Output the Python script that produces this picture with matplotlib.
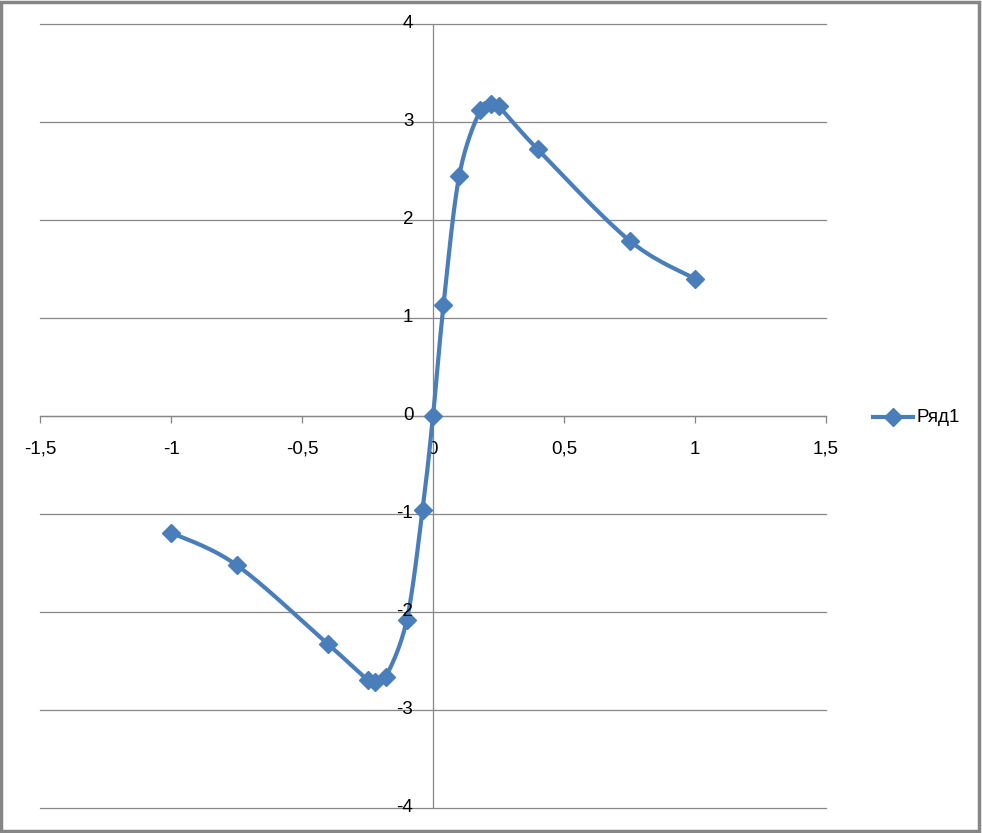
import numpy as np
import matplotlib
matplotlib.use("Agg")
import matplotlib.pyplot as plt
from matplotlib.patches import Rectangle
from matplotlib.ticker import FuncFormatter

plt.rcParams["font.family"] = ["Liberation Sans", "DejaVu Sans"]

# data
x_vals = [-1.0, -0.75, -0.4, -0.25, -0.22, -0.18, -0.1, -0.04, 0.0,
          0.04, 0.1, 0.18, 0.22, 0.25, 0.4, 0.75, 1.0]
y_vals = [-1.19, -1.52, -2.33, -2.69, -2.71, -2.66, -2.08, -0.96, 0.0,
          1.13, 2.45, 3.12, 3.18, 3.16, 2.72, 1.79, 1.40]
series_name = "Ряд1"
x_ticks = [-1.5, -1, -0.5, 0, 0.5, 1, 1.5]
y_ticks = [-4, -3, -2, -1, 0, 1, 2, 3, 4]

blue = "#4A7EBB"
grey = "#868686"
fs = 13.5


def smooth(xs, ys, n=30):
    # excel-like smoothed line (catmull-rom as bezier segments)
    p = np.column_stack([xs, ys])
    pts = np.vstack([p[0], p, p[-1]])
    out = []
    t = np.linspace(0, 1, n)[:, None]
    for i in range(1, len(pts) - 2):
        p0, p1, p2, p3 = pts[i - 1], pts[i], pts[i + 1], pts[i + 2]
        c1 = p1 + (p2 - p0) / 6
        c2 = p2 - (p3 - p1) / 6
        seg = ((1 - t) ** 3) * p1 + 3 * ((1 - t) ** 2) * t * c1 \
            + 3 * (1 - t) * t ** 2 * c2 + t ** 3 * p2
        out.append(seg if i == 1 else seg[1:])
    out = np.vstack(out)
    return out[:, 0], out[:, 1]


fig = plt.figure(figsize=(9.82, 8.33), dpi=100)
ax = fig.add_axes([40 / 982, 25 / 833, 786 / 982, 784 / 833])

ax.set_xlim(-1.5, 1.5)
ax.set_ylim(-4, 4)

for y in y_ticks:
    ax.axhline(y, color=grey, lw=0.9, zorder=1, clip_on=False)
ax.axvline(0, color=grey, lw=0.9, zorder=1)

sx, sy = smooth(x_vals, y_vals)
ax.plot(sx, sy, color=blue, lw=3, zorder=3, solid_capstyle="round")
ax.plot(x_vals, y_vals, ls="none", marker="D", ms=9.5, color=blue, zorder=4)

for s in ax.spines.values():
    s.set_visible(False)

comma = FuncFormatter(lambda v, pos: f"{v:g}".replace(".", ","))

ax.set_xticks(x_ticks)
ax.xaxis.set_major_formatter(comma)
ax.tick_params(axis="x", direction="out", length=5, width=0.9, color=grey,
               labelsize=fs, pad=13)
ax.set_yticks([])

# x tick marks sit on the y=0 line
ax.spines["bottom"].set_position(("data", 0))
ax.spines["bottom"].set_visible(True)
ax.spines["bottom"].set_color(grey)
ax.spines["bottom"].set_linewidth(0.9)

for y in y_ticks:
    ax.text(-0.075, y, f"{y}", ha="right", va="center", fontsize=fs, zorder=6)

# legend
leg_y = 1 - 417 / 833
fig.lines.append(plt.Line2D([873 / 982, 913 / 982], [leg_y, leg_y],
                            color=blue, lw=3, transform=fig.transFigure))
fig.lines.append(plt.Line2D([893 / 982], [leg_y], color=blue,
                            marker="D", ms=9, ls="none",
                            transform=fig.transFigure))
fig.text(916 / 982, leg_y, series_name, ha="left", va="center",
         fontsize=fs)

fig.patches.append(Rectangle((0.0015, 0.002), 0.995, 0.995, fill=False,
                             edgecolor=grey, lw=2.5,
                             transform=fig.transFigure))

fig.savefig("out.png", dpi=100)
